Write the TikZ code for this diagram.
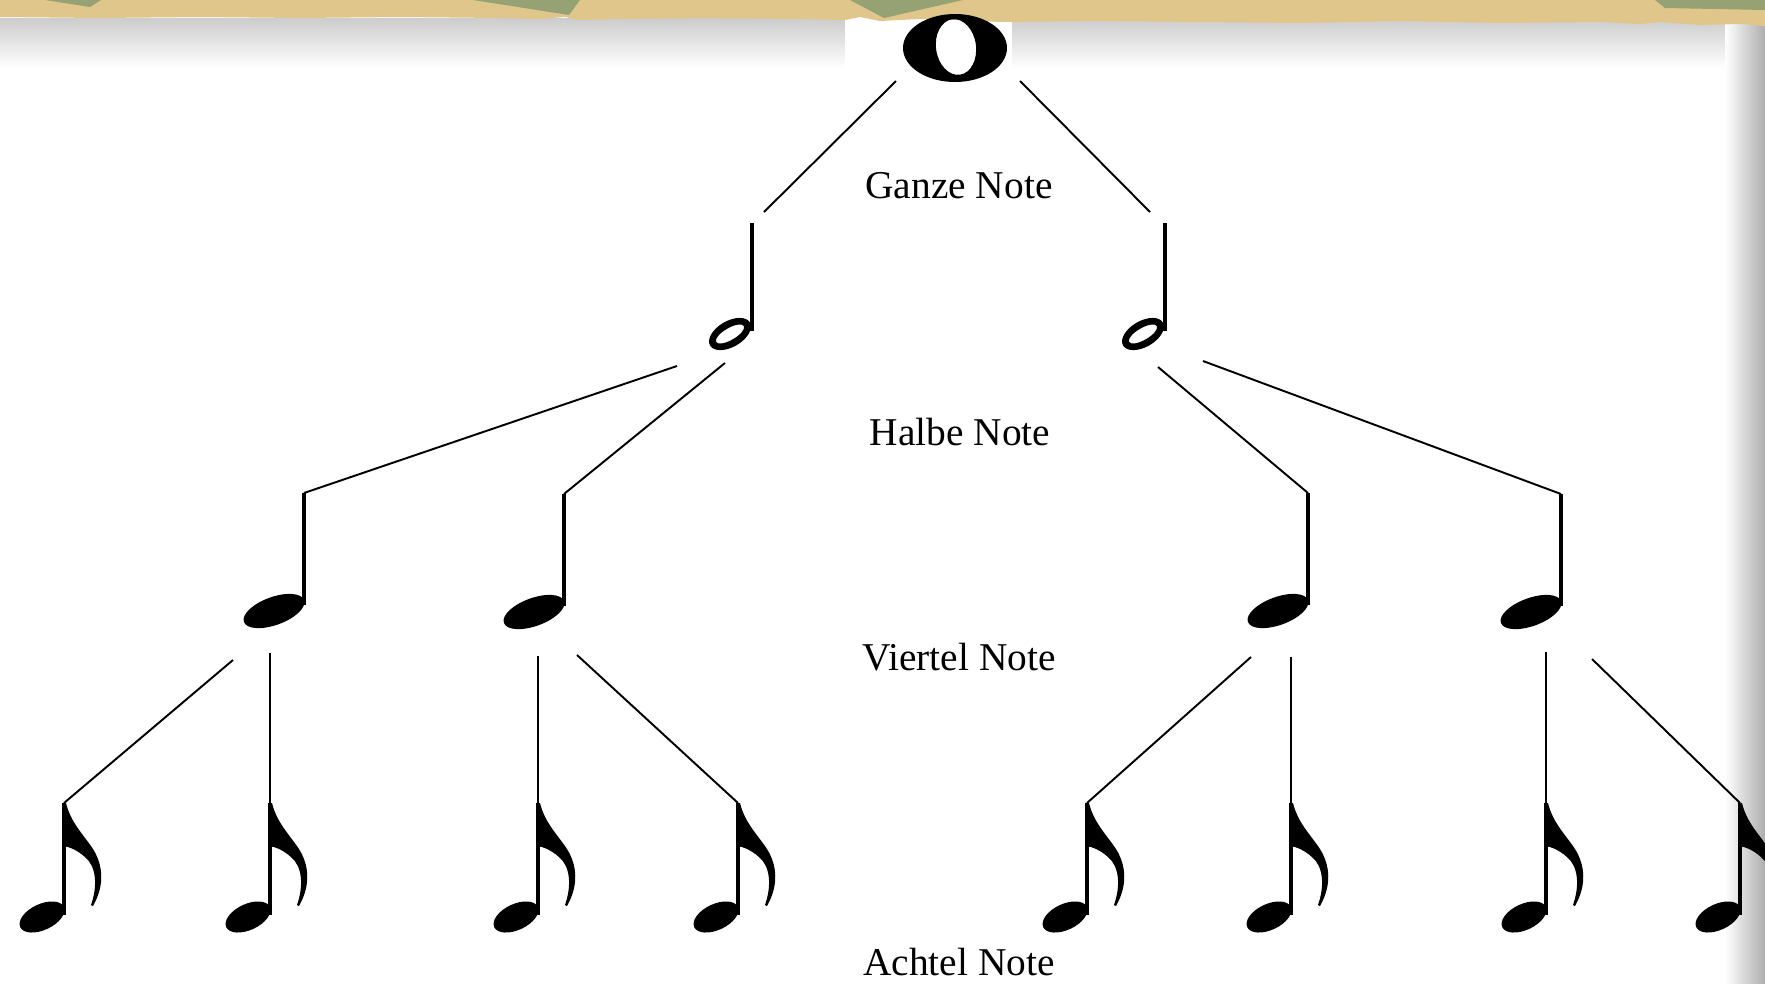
\documentclass[tikz,border=0pt]{standalone}
\usepackage{fontspec}
\setmainfont{Liberation Serif}
\usetikzlibrary{calc}
\definecolor{papertan}{RGB}{224,198,138}
\definecolor{papergreen}{RGB}{150,162,116}

% note shapes, drawn from the top of the stem
\newcommand{\ganzenote}[1]{%
  \begin{scope}[shift={(#1)}]
    \fill[even odd rule] (0,0) ellipse [x radius=52, y radius=34]
      (1,-1) ellipse [x radius=20, y radius=28, rotate=8];
  \end{scope}}
\newcommand{\halbenote}[1]{%
  \begin{scope}[shift={(#1)}]
    \draw[notestem] (0,0) -- (0,108);
    \fill[even odd rule] (-22,111) ellipse [x radius=23, y radius=13, rotate=30]
      (-22,111) ellipse [x radius=16, y radius=6, rotate=30];
  \end{scope}}
\newcommand{\viertelnote}[1]{%
  \begin{scope}[shift={(#1)}]
    \draw[notestem] (0,0) -- (0,112);
    \fill (-30,118) ellipse [x radius=32, y radius=14, rotate=20];
  \end{scope}}
\newcommand{\achtelnote}[1]{%
  \begin{scope}[shift={(#1)}]
    \draw[notestem] (0,0) -- (0,112);
    \fill (-22,114) ellipse [x radius=24, y radius=13, rotate=25];
    \fill (-1,0) -- (2,0) .. controls (7,20) and (19,31) .. (29,46)
      .. controls (39,62) and (41,82) .. (29,103) -- (27,102)
      .. controls (34,82) and (32,63) .. (21,54)
      .. controls (13,47) and (6,44) .. (-1,43) -- cycle;
  \end{scope}}

\begin{document}
\begin{tikzpicture}[x=0.01cm, y=-0.01cm,
    branch/.style={line width=0.55pt},
    notestem/.style={line width=0.9pt},
    notename/.style={font=\fontsize{11.2}{13}\selectfont, anchor=base, inner sep=0pt}]
  \useasboundingbox (0,0) rectangle (1765,984);
  \clip (0,0) rectangle (1765,984);
  \fill[white] (0,0) rectangle (1765,984);

  % Paper strip and shadows
  \shade[top color=black!20, bottom color=white] (0,18) rectangle (1765,68);
  \fill[white] (845,18) rectangle (1012,95);
  \foreach \k [evaluate=\k as \shadeval using \k*0.8] in {0,...,39}
    \fill[black!\shadeval] (1725+\k,0) rectangle (1765,984);
  \fill[papertan] (0,0) -- (1765,0) -- (1765,26) -- (1740,24) -- (1700,25)
    -- (1660,22) -- (1640,24) -- (1600,22) -- (1500,23) -- (1400,21)
    -- (1300,23) -- (1200,22) -- (1100,21) -- (1000,22) -- (960,20)
    -- (920,19) -- (880,21) -- (860,17) -- (845,20) -- (800,19) -- (700,18)
    -- (620,19) -- (580,20) -- (565,17) -- (540,19) -- (500,18) -- (400,17)
    -- (300,18) -- (200,17) -- (100,18) -- (0,17) -- cycle;
  \fill[papergreen] (45,0) -- (101,0) -- (90,7) -- cycle;
  \fill[papergreen] (473,0) -- (580,0) -- (569,15) -- cycle;
  \fill[papergreen] (850,0) -- (963,0) -- (884,18) -- cycle;
  \fill[papergreen] (1655,0) -- (1765,0) -- (1765,10) -- (1665,8) -- cycle;

  % Notes
  \coordinate (ganze) at (955,48);
  \coordinate (halbe1) at (752,223);
  \coordinate (halbe2) at (1165,223);
  \coordinate (viertel1) at (304,493);
  \coordinate (viertel2) at (564,494);
  \coordinate (viertel3) at (1308,493);
  \coordinate (viertel4) at (1561,494);
  \foreach \i/\x in {1/64, 2/270, 3/538, 4/738, 5/1087, 6/1291, 7/1546, 8/1740}
    \coordinate (achtel\i) at (\x,803);

  \ganzenote{ganze}
  \halbenote{halbe1}
  \halbenote{halbe2}
  \foreach \i in {1,...,4} {\viertelnote{viertel\i}}
  \foreach \i in {1,...,8} {\achtelnote{achtel\i}}

  % Branch ends next to the notes
  \coordinate (ganze-l) at (896,81);
  \coordinate (ganze-r) at (1020,81);
  \coordinate (halbe1-top) at (764,212);
  \coordinate (halbe2-top) at (1150,212);
  \coordinate (halbe1-l) at (677,366);
  \coordinate (halbe1-r) at (725,363);
  \coordinate (halbe2-l) at (1158,367);
  \coordinate (halbe2-r) at (1203,361);
  \coordinate (viertel1-l) at (233,660);
  \coordinate (viertel1-r) at (270,653);
  \coordinate (viertel2-l) at (538,656);
  \coordinate (viertel2-r) at (577,655);
  \coordinate (viertel3-l) at (1251,657);
  \coordinate (viertel3-r) at (1291,657);
  \coordinate (viertel4-l) at (1546,652);
  \coordinate (viertel4-r) at (1592,659);

  % Branches
  \draw[branch] (ganze-l) -- (halbe1-top);
  \draw[branch] (ganze-r) -- (halbe2-top);
  \draw[branch] (halbe1-l) -- (viertel1);
  \draw[branch] (halbe1-r) -- (viertel2);
  \draw[branch] (halbe2-l) -- (viertel3);
  \draw[branch] (halbe2-r) -- (viertel4);
  \draw[branch] (viertel1-l) -- (achtel1);
  \draw[branch] (viertel1-r) -- (achtel2);
  \draw[branch] (viertel2-l) -- (achtel3);
  \draw[branch] (viertel2-r) -- (achtel4);
  \draw[branch] (viertel3-l) -- (achtel5);
  \draw[branch] (viertel3-r) -- (achtel6);
  \draw[branch] (viertel4-l) -- (achtel7);
  \draw[branch] (viertel4-r) -- (achtel8);

  % Labels
  \node[notename] (ganze-text) at (959,198) {Ganze Note};
  \node[notename] (halbe-text) at (960,445) {Halbe Note};
  \node[notename] (viertel-text) at (959,670) {Viertel Note};
  \node[notename] (achtel-text) at (959,975) {Achtel Note};
\end{tikzpicture}
\end{document}
